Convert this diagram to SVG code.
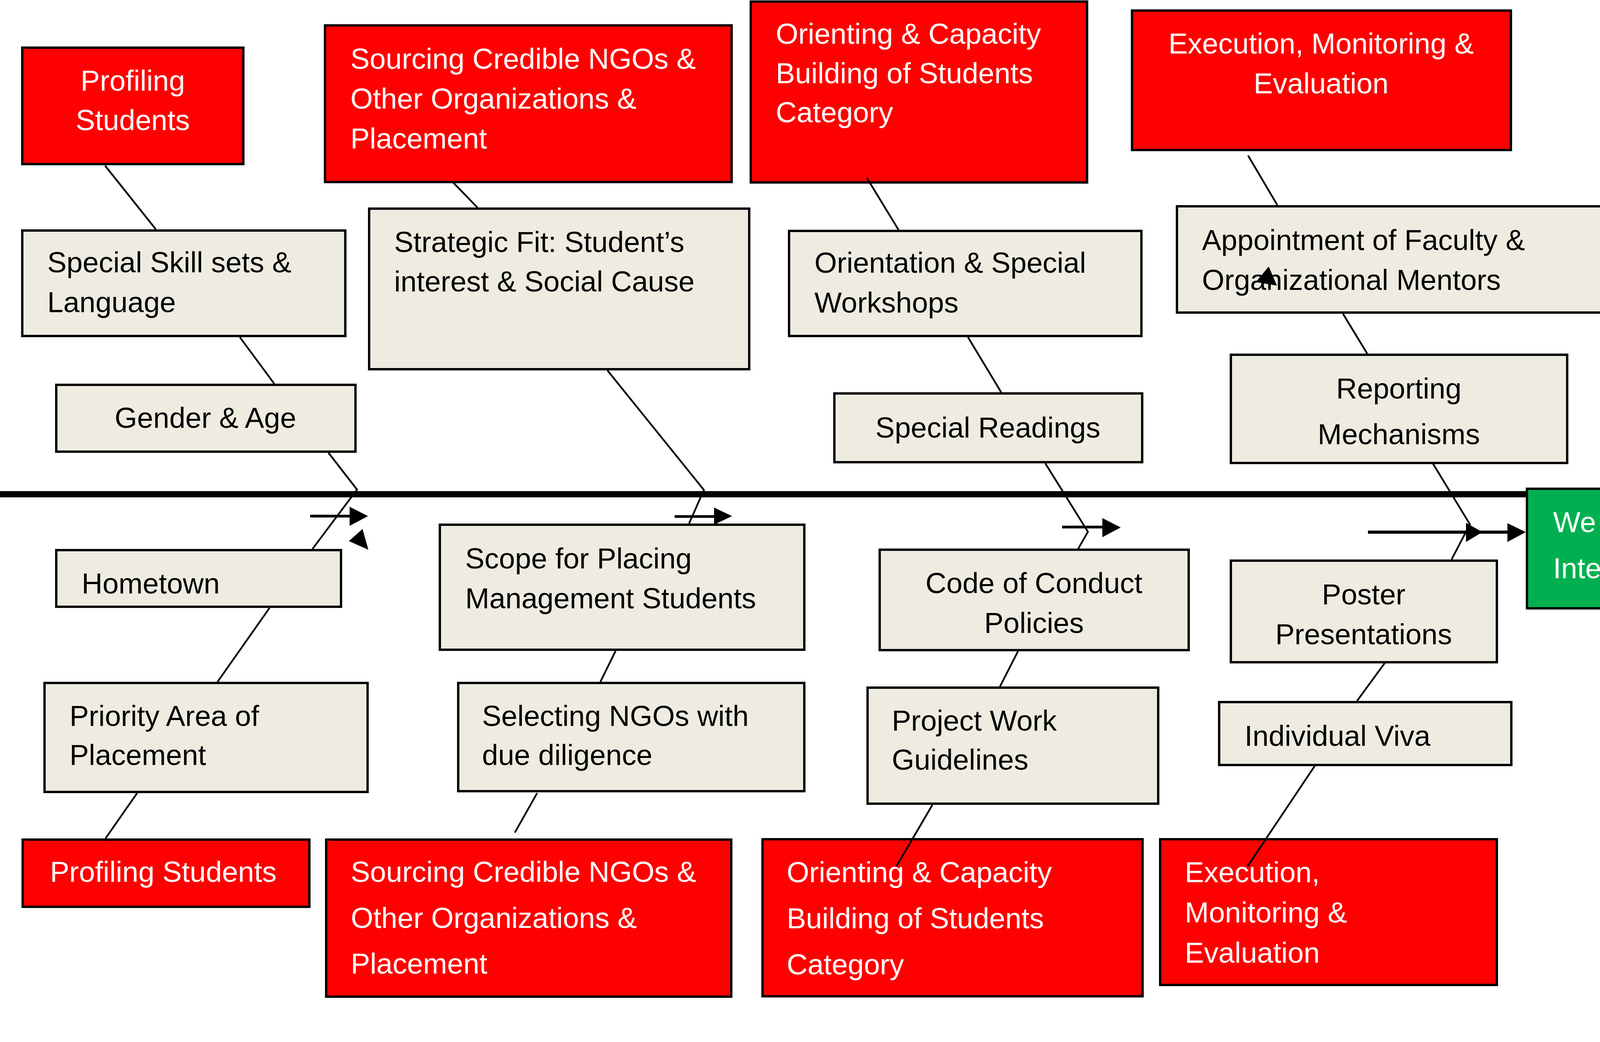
<svg xmlns="http://www.w3.org/2000/svg" width="4436" height="2667" viewBox="0 0 4436 2667">
<style>
.red{fill:#FF0000;stroke:#000;stroke-width:6}
.gray{fill:#EEECE1;stroke:#000;stroke-width:6}
.green{fill:#00B050;stroke:#000;stroke-width:6}
text{font-family:"Liberation Sans",Arial,sans-serif;font-size:74px}
.w{fill:#fff}
.b{fill:#000}
.m{text-anchor:middle}
.ln{fill:none;stroke:#000;stroke-width:4.5}
.sh{stroke:#000;stroke-width:7}
.hd{fill:#000}
</style>
<rect width="4436" height="2667" fill="#fff"/>
<g id="nodes">
<g id="profiling-top"><rect class="red" x="57" y="122" width="566" height="298"/><text class="w m" x="340" y="232">Profiling</text><text class="w m" x="340" y="333">Students</text></g>
<g id="sourcing-top"><rect class="red" x="832" y="65" width="1041" height="401"/><text class="w" x="897" y="176">Sourcing Credible NGOs &amp;</text><text class="w" x="897" y="278">Other Organizations &amp;</text><text class="w" x="897" y="380">Placement</text></g>
<g id="orienting-top"><rect class="red" x="1922" y="4" width="861" height="463"/><text class="w" x="1986" y="112">Orienting &amp; Capacity</text><text class="w" x="1986" y="213">Building of Students</text><text class="w" x="1986" y="313">Category</text></g>
<g id="execution-top"><rect class="red" x="2898" y="27" width="970" height="357"/><text class="w m" x="3382" y="137">Execution, Monitoring &amp;</text><text class="w m" x="3382" y="239">Evaluation</text></g>
<g id="special-skill"><rect class="gray" x="57" y="590" width="827" height="270"/><text class="b" x="121" y="697">Special Skill sets &amp;</text><text class="b" x="121" y="799">Language</text></g>
<g id="strategic-fit"><rect class="gray" x="945" y="534" width="973" height="411"/><text class="b" x="1009" y="645">Strategic Fit: Student’s</text><text class="b" x="1009" y="746">interest &amp; Social Cause</text></g>
<g id="orientation"><rect class="gray" x="2020" y="591" width="902" height="269"/><text class="b" x="2085" y="698">Orientation &amp; Special</text><text class="b" x="2085" y="800">Workshops</text></g>
<g id="appointment"><rect class="gray" x="3013" y="528" width="1120" height="272"/><text class="b" x="3077" y="640">Appointment of Faculty &amp;</text><text class="b" x="3077" y="742">Organizational Mentors</text></g>
<g id="gender-age"><rect class="gray" x="144" y="985" width="766" height="171"/><text class="b m" x="526" y="1095">Gender &amp; Age</text></g>
<g id="reporting"><rect class="gray" x="3151" y="908" width="861" height="277"/><text class="b m" x="3581" y="1020">Reporting</text><text class="b m" x="3581" y="1137">Mechanisms</text></g>
<g id="special-readings"><rect class="gray" x="2136" y="1007" width="788" height="176"/><text class="b m" x="2529" y="1120">Special Readings</text></g>
<g id="hometown"><rect class="gray" x="144" y="1408" width="729" height="145"/><text class="b" x="209" y="1519">Hometown</text></g>
<g id="scope"><rect class="gray" x="1126" y="1343" width="933" height="320"/><text class="b" x="1191" y="1455">Scope for Placing</text><text class="b" x="1191" y="1557">Management Students</text></g>
<g id="code-of-conduct"><rect class="gray" x="2252" y="1407" width="791" height="257"/><text class="b m" x="2647" y="1518">Code of Conduct</text><text class="b m" x="2647" y="1620">Policies</text></g>
<g id="poster"><rect class="gray" x="3151" y="1435" width="681" height="260"/><text class="b m" x="3491" y="1547">Poster</text><text class="b m" x="3491" y="1649">Presentations</text></g>
<g id="priority"><rect class="gray" x="114" y="1748" width="827" height="279"/><text class="b" x="178" y="1858">Priority Area of</text><text class="b" x="178" y="1958">Placement</text></g>
<g id="selecting"><rect class="gray" x="1173" y="1748" width="886" height="277"/><text class="b" x="1234" y="1858">Selecting NGOs with</text><text class="b" x="1234" y="1958">due diligence</text></g>
<g id="project-work"><rect class="gray" x="2221" y="1760" width="744" height="297"/><text class="b" x="2283" y="1870">Project Work</text><text class="b" x="2283" y="1970">Guidelines</text></g>
<g id="individual-viva"><rect class="gray" x="3121" y="1797" width="748" height="161"/><text class="b" x="3186" y="1909">Individual Viva</text></g>
<g id="profiling-bottom"><rect class="red" x="58" y="2149" width="734" height="172"/><text class="w" x="128" y="2257">Profiling Students</text></g>
<g id="sourcing-bottom"><rect class="red" x="835" y="2149" width="1037" height="402"/><text class="w" x="898" y="2257">Sourcing Credible NGOs &amp;</text><text class="w" x="898" y="2375">Other Organizations &amp;</text><text class="w" x="898" y="2492">Placement</text></g>
<g id="orienting-bottom"><rect class="red" x="1952" y="2148" width="973" height="402"/><text class="w" x="2014" y="2258">Orienting &amp; Capacity</text><text class="w" x="2014" y="2376">Building of Students</text><text class="w" x="2014" y="2494">Category</text></g>
<g id="execution-bottom"><rect class="red" x="2970" y="2148" width="862" height="373"/><text class="w" x="3033" y="2258">Execution,</text><text class="w" x="3033" y="2361">Monitoring &amp;</text><text class="w" x="3033" y="2464">Evaluation</text></g>
<g id="we-care"><rect class="green" x="3909" y="1251" width="512" height="306"/><text class="w" x="3976" y="1362">We Care</text><text class="w" x="3976" y="1480">Internship</text></g>
</g>
<g id="connectors">
<line x1="0" y1="1265" x2="3906" y2="1265" stroke="#000" stroke-width="16"/>
<path class="ln" d="M269,424 L399,587"/>
<path class="ln" d="M614,863 L702,982"/>
<path class="ln" d="M841,1159 L914,1253 L800,1405"/>
<path class="ln" d="M690,1556 L557,1745"/>
<path class="ln" d="M351,2030 L270,2146"/>
<path class="ln" d="M1160,467 L1222,531"/>
<path class="ln" d="M1555,948 L1802,1254 L1764,1340"/>
<path class="ln" d="M1576,1666 L1537,1745"/>
<path class="ln" d="M1375,2030 L1318,2131"/>
<path class="ln" d="M2219,455 L2300,588"/>
<path class="ln" d="M2478,863 L2563,1004"/>
<path class="ln" d="M2676,1186 L2785,1361 L2760,1405"/>
<path class="ln" d="M2606,1667 L2560,1757"/>
<path class="ln" d="M2387,2060 L2295,2217"/>
<path class="ln" d="M3195,398 L3270,525"/>
<path class="ln" d="M3438,803 L3500,905"/>
<path class="ln" d="M3668,1186 L3763,1342 L3716,1432"/>
<path class="ln" d="M3545,1697 L3474,1794"/>
<path class="ln" d="M3366,1960 L3194,2217"/>
<line class="sh" x1="794" y1="1321" x2="897" y2="1321"/>
<polygon class="hd" points="895,1297 942,1321 895,1346"/>
<polygon class="hd" points="928,1354 893,1385 943,1407"/>
<line class="sh" x1="1727" y1="1322" x2="1830" y2="1322"/>
<polygon class="hd" points="1828,1299 1874,1321 1828,1343"/>
<line class="sh" x1="2719" y1="1349" x2="2824" y2="1349"/>
<polygon class="hd" points="2822,1326 2869,1350 2822,1375"/>
<line x1="3502" y1="1362" x2="3862" y2="1362" stroke="#000" stroke-width="8"/>
<polygon class="hd" points="3753,1338 3795,1362 3753,1387"/>
<polygon class="hd" points="3859,1339 3906,1362 3859,1387"/>
<polygon class="hd" points="3248,682 3215,722 3269,731"/>
</g>
</svg>
